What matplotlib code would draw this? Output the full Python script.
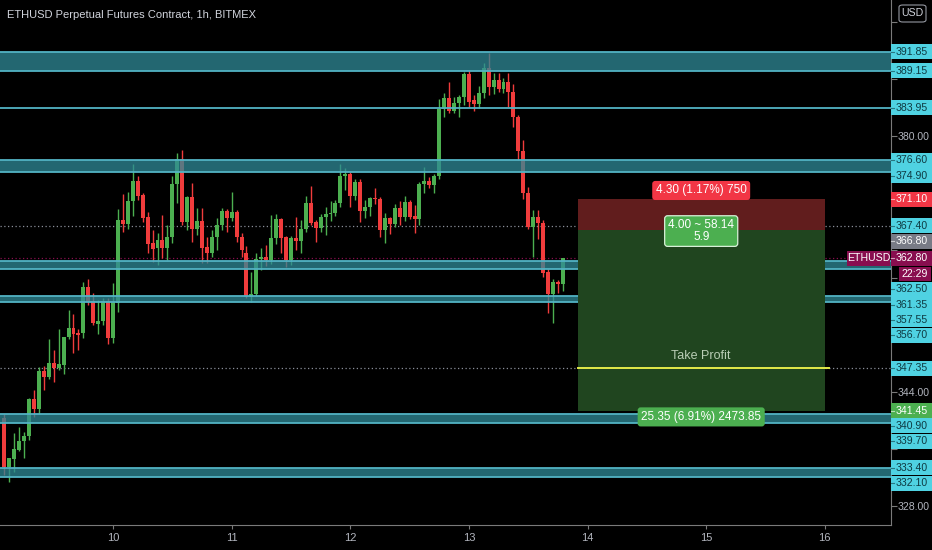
import numpy as np
import pandas as pd
import matplotlib
matplotlib.use("Agg")
import matplotlib.pyplot as plt
import matplotlib.dates as mdates
from matplotlib.patches import Rectangle, FancyBboxPatch
from matplotlib import font_manager as fm

# hourly candles, ETHUSD 1h BITMEX, 9 Jan 02:00 -> 13 Jan 19:00
opens = [340.4, 333.5, 334.6, 335.9, 337.1, 337.9, 343.1, 341.7, 347.0, 346.2,
         348.1, 347.4, 347.8, 351.8, 353.0, 352.3, 352.3, 358.8, 356.8, 353.6,
         354.0, 356.8, 351.6, 356.6, 368.2, 367.6, 370.9, 373.7, 371.7, 368.6,
         365.0, 364.3, 365.4, 364.3, 365.8, 373.3, 376.8, 367.9, 371.4, 366.9,
         368.1, 364.4, 363.6, 365.8, 367.5, 369.5, 368.5, 369.3, 365.8, 363.6,
         357.4, 357.8, 362.7, 363.0, 362.6, 365.7, 368.3, 365.8, 362.6, 365.7,
         365.3, 367.0, 370.6, 367.9, 367.1, 368.6, 369.0, 369.2, 370.6, 374.4,
         374.6, 371.6, 373.5, 369.5, 370.0, 371.3, 371.2, 366.8, 368.5, 367.6,
         369.9, 368.6, 370.7, 368.8, 368.3, 373.3, 373.7, 373.1, 374.4, 383.8,
         385.3, 383.5, 384.6, 385.5, 388.7, 385.0, 384.5, 386.0, 389.5, 386.9,
         387.9, 386.6, 387.6, 386.2, 382.7, 377.9, 372.0, 367.2, 368.6, 367.8,
         360.9, 357.8, 359.5, 359.2]
highs = [341.0, 334.8, 338.3, 339.1, 338.4, 343.2, 344.3, 347.5, 347.7, 351.5,
         350.0, 352.9, 351.8, 355.6, 355.0, 352.9, 359.5, 359.9, 358.0, 357.0,
         357.2, 357.2, 359.4, 369.7, 371.9, 372.1, 376.1, 374.4, 372.0, 369.3,
         366.8, 366.4, 368.9, 367.5, 374.4, 377.6, 378.0, 371.6, 373.4, 369.9,
         369.9, 365.8, 366.8, 368.5, 369.9, 369.7, 372.1, 369.6, 366.4, 364.6,
         360.9, 363.6, 364.3, 364.7, 368.9, 369.0, 368.5, 366.0, 366.0, 368.6,
         368.2, 371.6, 373.0, 368.2, 369.0, 370.0, 370.9, 371.0, 376.1, 375.5,
         374.9, 374.0, 374.0, 371.0, 371.5, 372.7, 371.5, 369.2, 368.6, 370.4,
         370.9, 371.6, 371.0, 370.3, 373.6, 375.6, 374.2, 374.6, 385.2, 386.0,
         387.6, 385.5, 385.8, 389.0, 389.2, 385.8, 387.0, 390.2, 391.7, 388.8,
         388.8, 388.2, 388.8, 387.3, 382.9, 379.4, 372.8, 369.6, 369.6, 368.2,
         361.3, 359.9, 359.8, 362.9]
lows = [332.4, 331.4, 332.8, 335.7, 334.8, 337.3, 340.5, 341.0, 344.3, 345.9,
        345.4, 347.2, 346.6, 351.5, 349.5, 350.0, 351.6, 356.3, 353.5, 352.2,
        353.5, 350.8, 350.9, 355.3, 366.5, 367.0, 368.8, 371.0, 367.9, 363.6,
        362.3, 361.9, 362.9, 362.6, 365.0, 370.6, 367.5, 366.8, 365.1, 366.1,
        362.2, 362.2, 363.0, 364.0, 366.8, 366.5, 368.0, 365.1, 363.0, 357.2,
        356.7, 357.5, 361.2, 361.8, 362.0, 364.8, 363.6, 361.6, 361.9, 364.0,
        363.6, 366.5, 367.5, 365.1, 366.5, 366.1, 368.0, 368.7, 370.0, 372.4,
        370.0, 371.0, 367.9, 368.5, 368.8, 370.5, 365.8, 365.0, 366.2, 367.2,
        367.5, 368.0, 368.4, 366.4, 367.5, 372.0, 372.7, 372.0, 374.0, 382.7,
        383.2, 383.2, 382.7, 384.4, 384.1, 383.5, 384.0, 385.4, 385.8, 385.9,
        386.2, 386.0, 384.1, 381.3, 376.6, 371.2, 367.0, 363.0, 365.5, 360.2,
        355.1, 353.7, 358.0, 358.2]
closes = [333.5, 334.8, 336.0, 337.2, 337.9, 343.1, 341.7, 347.0, 346.2, 348.1,
          347.4, 348.0, 351.8, 353.0, 352.2, 352.0, 358.8, 356.7, 353.7, 354.0,
          356.8, 351.6, 356.7, 368.2, 367.6, 370.9, 373.7, 371.6, 368.5, 364.8,
          364.1, 365.4, 364.3, 365.8, 373.3, 376.8, 367.9, 371.4, 366.9, 368.1,
          364.3, 363.6, 365.8, 367.5, 369.5, 368.5, 369.3, 365.8, 364.0, 357.4,
          357.8, 362.7, 363.0, 362.6, 365.7, 368.3, 365.7, 362.6, 365.7, 365.3,
          367.0, 370.6, 367.8, 367.1, 368.6, 369.0, 369.2, 370.6, 374.4, 374.6,
          371.6, 373.5, 369.5, 370.0, 371.3, 371.2, 366.8, 368.5, 367.6, 369.9,
          368.6, 370.7, 368.6, 368.3, 373.3, 373.7, 373.1, 374.4, 383.8, 385.3,
          383.5, 384.6, 385.5, 388.7, 384.8, 384.5, 386.0, 389.5, 386.9, 387.9,
          386.6, 387.6, 386.2, 382.7, 377.9, 372.0, 367.2, 368.6, 367.8, 360.8,
          357.8, 359.5, 359.2, 362.8]
times = pd.date_range("2020-01-09 02:00", periods=len(closes), freq="h")

# drawn levels
zones = [(389.15, 391.85), (374.90, 376.60), (361.35, 362.50),
         (356.70, 357.55), (339.70, 340.90), (332.10, 333.40)]
single_lines = [383.95]
dotted_levels = [367.40, 347.35]
last_price = 362.80
countdown = "22:29"

# long position tool
entry = 366.80
stop = 371.10
target = 341.45
take_profit = 347.35
pos_start = pd.Timestamp("2020-01-13 22:00")
pos_end = pd.Timestamp("2020-01-16 00:00")
tp_end = pd.Timestamp("2020-01-16 00:50")
stop_text = "4.30 (1.17%) 750"
ratio_text = "4.00 ~ 58.14\n5.9"
target_text = "25.35 (6.91%) 2473.85"

BG = "#000000"
GREEN = "#4caf50"
RED = "#f03c3c"
ZONE_FILL = "#2f8a98"
ZONE_EDGE = "#52b3c4"
LABEL_CYAN = "#4fd2e2"
MAROON = "#880e4f"
AXIS_TXT = "#b2b5be"

names = {f.name for f in fm.fontManager.ttflist}
narrow = "Liberation Sans Narrow" if "Liberation Sans Narrow" in names else "Liberation Sans"
plt.rcParams["font.family"] = [narrow, "DejaVu Sans"]

W, H = 932, 550
fig = plt.figure(figsize=(W / 100, H / 100), dpi=100, facecolor=BG)
ax = fig.add_axes([0, 25 / H, 891 / W, 525 / H], facecolor=BG)
ax.set_xlim(pd.Timestamp("2020-01-09 01:08"), pd.Timestamp("2020-01-16 13:24"))
ax.set_ylim(325.37, 399.10)

# candles
o = np.array(opens)
c = np.array(closes)
cols = np.where(c >= o, GREEN, RED)
x = mdates.date2num(times)
ax.vlines(x, lows, highs, colors=cols, linewidth=1.0, zorder=2)
ax.bar(x, np.maximum(np.abs(c - o), 0.15), bottom=np.minimum(o, c),
       width=0.8 / 24, color=cols, linewidth=0, zorder=2)

# zones and lines
for lo, hi in zones:
    ax.axhspan(lo, hi, color=ZONE_FILL, alpha=0.75, lw=0, zorder=3)
    ax.axhline(lo, color=ZONE_EDGE, lw=1.3, zorder=4)
    ax.axhline(hi, color=ZONE_EDGE, lw=1.3, zorder=4)
for lv in single_lines:
    ax.axhline(lv, color=ZONE_EDGE, lw=1.3, zorder=4)
for lv in dotted_levels:
    ax.axhline(lv, color="#8a8e99", lw=0.9, ls=(0, (1, 2)), zorder=1)
ax.axhline(last_price, color=MAROON, lw=0.9, ls=(0, (1, 2)), zorder=1)

# position box
ax.fill_between([pos_start, pos_end], entry, stop, color="#611d1d", lw=0, zorder=5)
ax.fill_between([pos_start, pos_end], target, entry, color="#20451f", lw=0, zorder=5)
ax.plot([pos_start, tp_end], [take_profit, take_profit], color="#e3ea4a", lw=1.4, zorder=6)
mid = pos_start + (pos_end - pos_start) / 2
ax.text(mid, take_profit + 1.7, "Take Profit", color="#b9cdb5", fontsize=9,
        ha="center", va="center", zorder=7)
ax.text(mid, stop + 1.25, stop_text, color="white", fontsize=8.5, ha="center", va="center",
        zorder=7, bbox=dict(boxstyle="round,pad=0.3,rounding_size=0.25", fc="#f23645", ec="none"))
ax.text(mid, entry - 0.15, ratio_text, color="white", fontsize=8.5, ha="center", va="center",
        linespacing=0.95, zorder=7,
        bbox=dict(boxstyle="round,pad=0.3,rounding_size=0.25", fc=GREEN, ec="#d8f0d8", lw=0.9))
ax.text(mid, target - 0.9, target_text, color="white", fontsize=8.5, ha="center", va="center",
        zorder=7, bbox=dict(boxstyle="round,pad=0.3,rounding_size=0.25", fc=GREEN, ec="none"))

# price scale labels, stacked like the platform does
labels = []
for lo, hi in zones:
    labels += [(hi, LABEL_CYAN, "#0e3a42"), (lo, LABEL_CYAN, "#0e3a42")]
labels += [(lv, LABEL_CYAN, "#0e3a42") for lv in single_lines + dotted_levels]
labels += [(stop, "#f23645", "white"), (entry, "#787b86", "white"),
           (target, GREEN, "white"), (last_price, MAROON, "white")]
labels.sort(key=lambda t: -t[0])

def box(px, py, w, h, fc):
    fig.add_artist(Rectangle((px / W, 1 - (py + h / 2) / H), w / W, h / H,
                             transform=fig.transFigure, fc=fc, ec="none", zorder=5))

taken = [13.5]  # USD badge
prev = -100
for price, fc, tc in labels:
    py = H - ax.transData.transform((0, price))[1]
    py = max(py, prev + 15.3)
    prev = py
    taken.append(py)
    box(891, py, 41, 15, fc)
    fig.text(896 / W, 1 - py / H, f"{price:.2f}", color=tc, fontsize=7.6,
             ha="left", va="center", zorder=7)
    fig.add_artist(plt.Line2D([891 / W, 894 / W], [1 - py / H] * 2, transform=fig.transFigure,
                              color=tc, lw=0.8, alpha=0.6, zorder=6))
    if price == last_price:
        box(847, py, 43, 15, MAROON)
        fig.text(868.5 / W, 1 - py / H, "ETHUSD", color="white", fontsize=7.6,
                 ha="center", va="center", zorder=7)
        prev = py + 15.5
        taken.append(prev)
        box(899, prev, 32, 14, MAROON)
        fig.text(915 / W, 1 - prev / H, countdown, color="white", fontsize=7.6,
                 ha="center", va="center", zorder=7)

# only ticks that are not hidden behind a label keep their text
def price_fmt(v, _):
    py = H - ax.transData.transform((0, v))[1]
    if min(abs(py - t) for t in taken) < 12:
        return ""
    return f"{v:.2f}"

# axes styling
for s in ["left", "top"]:
    ax.spines[s].set_visible(False)
ax.spines["right"].set_color("#7a7a7a")
ax.spines["bottom"].set_color("#7a7a7a")
ax.yaxis.tick_right()
ax.set_yticks(np.arange(328, 400, 4))
ax.yaxis.set_major_formatter(price_fmt)
ax.xaxis.set_major_locator(mdates.DayLocator())
ax.xaxis.set_major_formatter(lambda v, _: str(mdates.num2date(v).day))
ax.tick_params(axis="y", colors="#7a7a7a", labelcolor=AXIS_TXT, labelsize=7.6, length=4, pad=1)
ax.tick_params(axis="x", colors="#7a7a7a", labelcolor=AXIS_TXT, labelsize=8, length=3, pad=3)

fig.text(7 / W, 1 - 15 / H, "ETHUSD Perpetual Futures Contract, 1h, BITMEX",
         color="#d1d4dc", fontsize=8, va="center", ha="left")
fig.add_artist(FancyBboxPatch((899 / W, 1 - 22 / H), 27 / W, 17 / H,
                              boxstyle="round,pad=0,rounding_size=0.004",
                              transform=fig.transFigure, fc=BG, ec="#9598a1", lw=0.8, zorder=6))
fig.text(912.5 / W, 1 - 13.5 / H, "USD", color="#d1d4dc", fontsize=7.6, ha="center",
         va="center", zorder=7)

fig.savefig("out.png", dpi=100, facecolor=BG)
